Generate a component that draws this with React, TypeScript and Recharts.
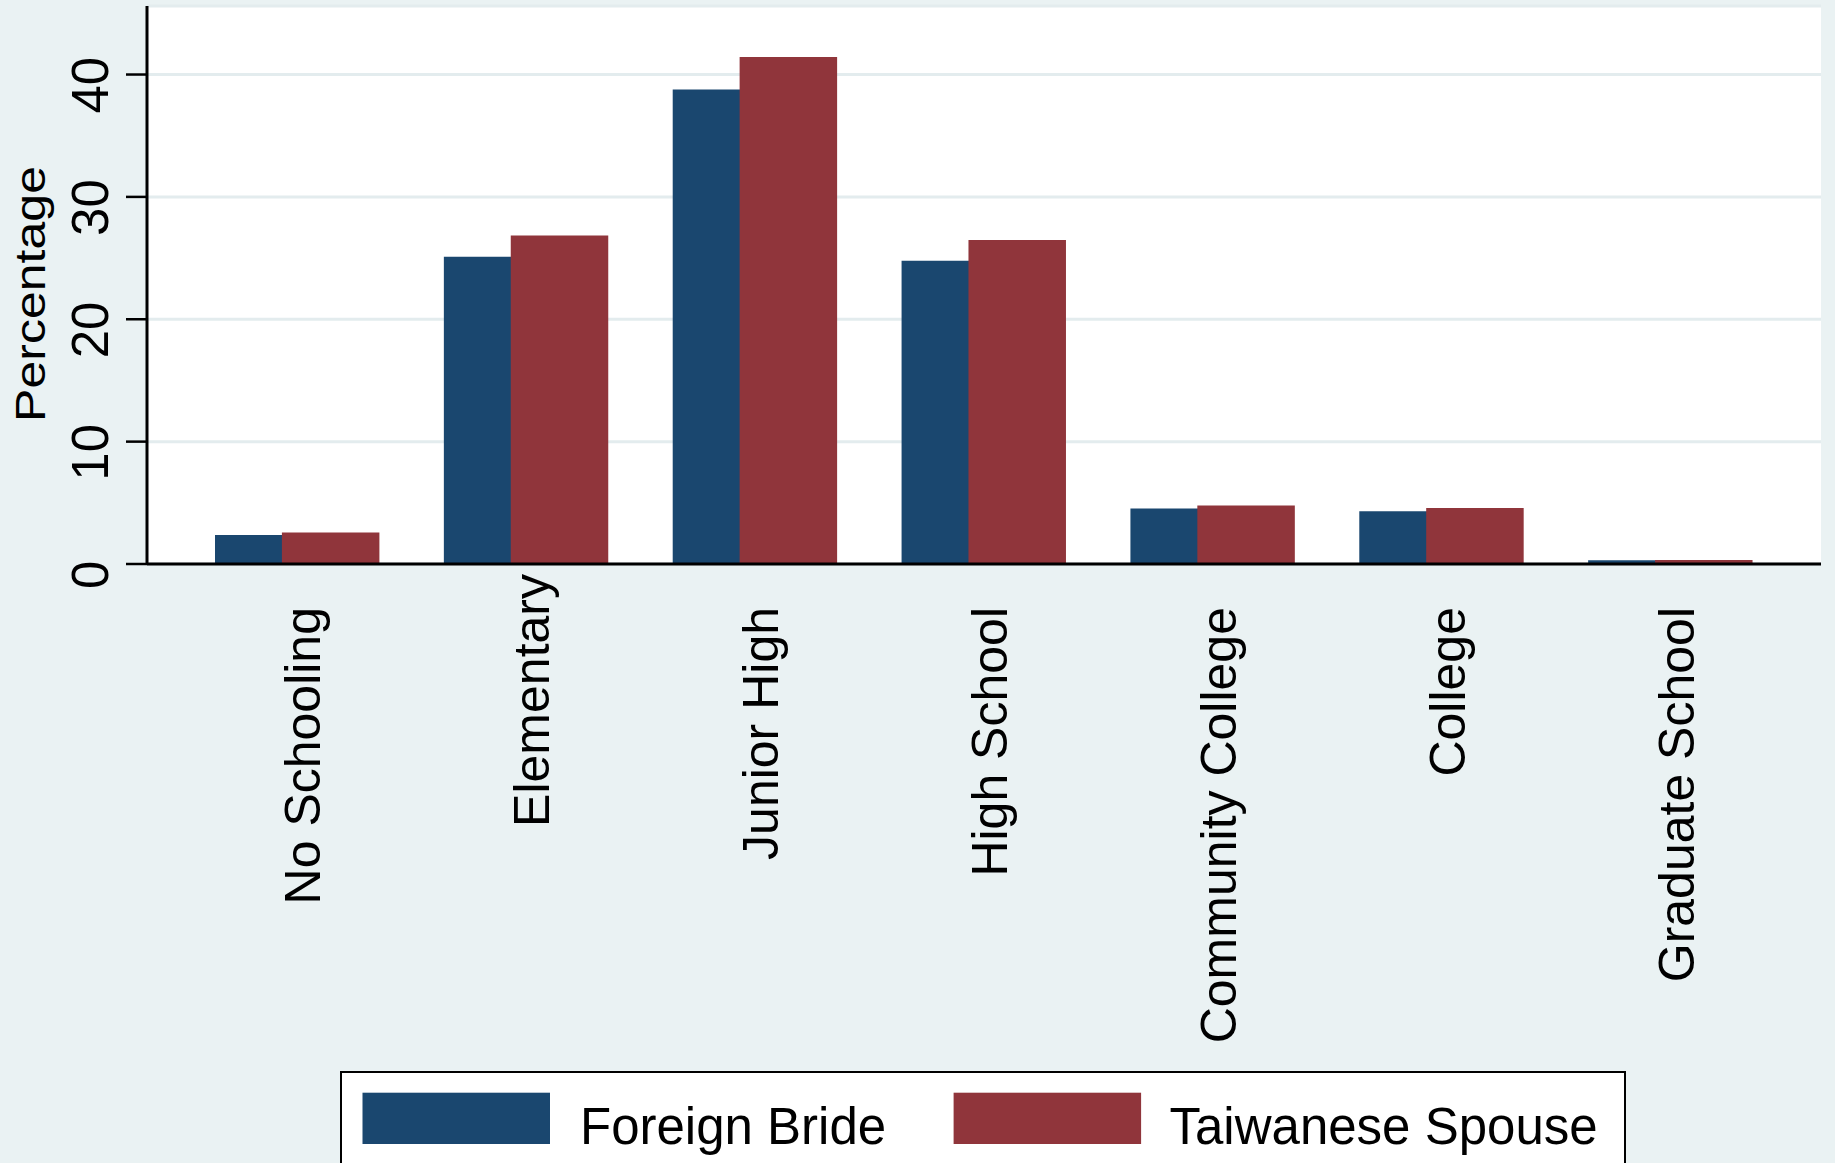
import React from 'react';
import { BarChart, Bar, XAxis, YAxis, CartesianGrid, Legend } from 'recharts';

const categories = [
  'No Schooling',
  'Elementary',
  'Junior High',
  'High School',
  'Community College',
  'College',
  'Graduate School',
];
const foreignBride = [2.38, 25.1, 38.77, 24.78, 4.54, 4.32, 0.31];
const taiwaneseSpouse = [2.57, 26.85, 41.43, 26.47, 4.78, 4.57, 0.33];
const yTicks = [0, 10, 20, 30, 40];
const seriesNames = ['Foreign Bride', 'Taiwanese Spouse'];
const yTitle = 'Percentage';

const data = categories.map((c, i) => ({
  category: c,
  foreign: foreignBride[i],
  taiwanese: taiwaneseSpouse[i],
}));

const FONT = '"Liberation Sans", Arial, Helvetica, sans-serif';
const NAVY = '#1a476f';
const MAROON = '#90353b';
const BG = '#eaf2f3';

const labelNudge: Record<string, number> = { Elementary: -33 };

const renderXTick = (props: any) => {
  const { x, payload } = props;
  const bx = x + 23;
  const ey = 607 + (labelNudge[payload.value] || 0);
  return (
    <text
      x={bx}
      y={ey}
      transform={`rotate(-90, ${bx}, ${ey})`}
      textAnchor="end"
      fontSize={50}
      fontFamily={FONT}
      fill="#000"
    >
      {payload.value}
    </text>
  );
};

const renderYTick = (props: any) => {
  const { y, payload } = props;
  const bx = 108;
  const cy = y + 10.7;
  return (
    <text
      x={bx}
      y={cy}
      transform={`rotate(-90, ${bx}, ${cy})`}
      textAnchor="middle"
      fontSize={51}
      fontFamily={FONT}
      fill="#000"
    >
      {payload.value}
    </text>
  );
};

const renderYLabel = () => {
  const bx = 45;
  const cy = 294;
  return (
    <text
      x={bx}
      y={cy}
      transform={`rotate(-90, ${bx}, ${cy})`}
      textAnchor="middle"
      fontSize={42}
      fontFamily={FONT}
      fill="#000"
      textLength={256}
      lengthAdjust="spacingAndGlyphs"
    >
      {yTitle}
    </text>
  );
};

const renderLegend = (props: any) => {
  const items = props.payload || [];
  const swatchX = [22.5, 613.6];
  const textX = [240, 829.5];
  return (
    <svg width={1286} height={92} style={{ display: 'block' }}>
      <rect x={1} y={1} width={1284} height={130} fill="#ffffff" stroke="#000" strokeWidth={2} />
      {items.map((it: any, i: number) => (
        <g key={i}>
          <rect x={swatchX[i]} y={21.7} width={187.5} height={51.3} fill={it.color} />
          <text x={textX[i]} y={73} fontSize={51} fontFamily={FONT} fill="#000">
            {it.value}
          </text>
        </g>
      ))}
    </svg>
  );
};

export default function App() {
  return (
    <div
      style={{
        position: 'absolute',
        left: 0,
        top: 0,
        width: 1835,
        height: 1163,
        background: BG,
        overflow: 'hidden',
      }}
    >
      <BarChart
        width={1835}
        height={1163}
        data={data}
        margin={{ top: 6, right: 14, bottom: 0, left: 0 }}
        barSize={97.5}
        barGap={-30.6}
      >
        <CartesianGrid
          vertical={false}
          stroke="#e3ecee"
          strokeWidth={3}
          fill="#ffffff"
          fillOpacity={1}
        />
        <XAxis
          dataKey="category"
          height={599}
          padding={{ left: 36, right: 36 }}
          interval={0}
          tickLine={false}
          axisLine={{ stroke: '#000', strokeWidth: 3 }}
          tick={renderXTick}
        />
        <YAxis
          width={147}
          domain={[0, 45.6]}
          ticks={yTicks}
          allowDataOverflow
          tickSize={21}
          tickLine={{ stroke: '#000', strokeWidth: 2.5 }}
          axisLine={{ stroke: '#000', strokeWidth: 3 }}
          tick={renderYTick}
          label={{ value: yTitle, content: renderYLabel }}
        />
        <Legend
          layout="horizontal"
          verticalAlign="middle"
          align="center"
          wrapperStyle={{ left: 340, top: 1071, width: 1286, height: 92, margin: 0 }}
          content={renderLegend}
        />
        <Bar dataKey="foreign" name={seriesNames[0]} fill={NAVY} isAnimationActive={false} />
        <Bar dataKey="taiwanese" name={seriesNames[1]} fill={MAROON} isAnimationActive={false} />
      </BarChart>
    </div>
  );
}
